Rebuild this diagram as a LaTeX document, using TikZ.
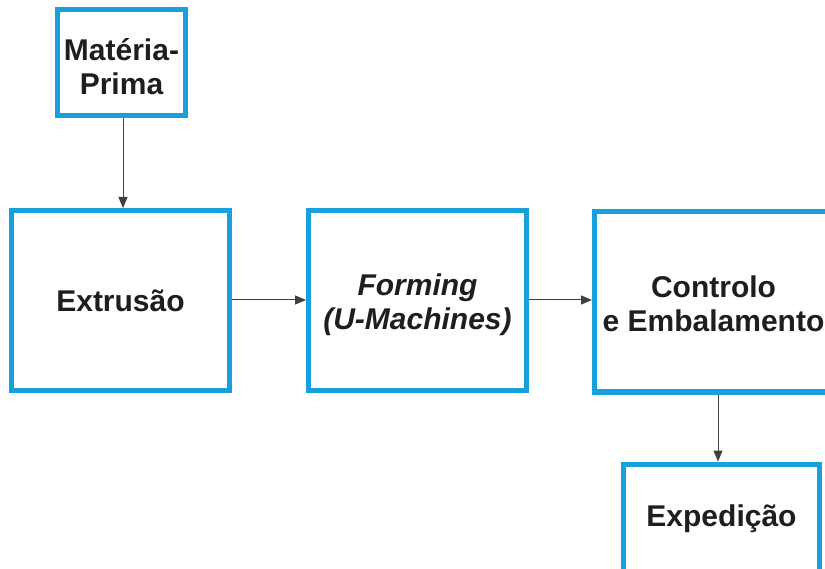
\documentclass[tikz,border=0pt]{standalone}
\usepackage{fontspec}
\setmainfont{Liberation Sans}
\usetikzlibrary{arrows.meta}
\definecolor{frameblue}{RGB}{23,160,218}
\definecolor{inkgray}{RGB}{30,30,30}
\begin{document}
\begin{tikzpicture}[x=1pt,y=-1pt,
  stagefont/.style={text=inkgray, align=center, inner sep=0pt,
    font=\fontsize{30}{34.5}\selectfont\bfseries},
  stagebox/.style={draw=frameblue, line width=5pt, fill=white, rectangle,
    stagefont},
  caption/.style={stagefont, yshift=-4pt},
  flow/.style={draw=inkgray!85, line width=1pt,
    -{Triangle[length=11pt,width=9pt]}}]
  \useasboundingbox (0,0) rectangle (825,569);
  \fill[white] (0,0) rectangle (825,569);
  \clip (0,0) rectangle (825,569);

  % process stages
  \node[stagebox, minimum width=128pt, minimum height=106pt,
    label={[caption]center:Matéria-\\Prima}] (mp) at (121.5,62.5) {};
  \node[stagebox, minimum width=218pt, minimum height=180pt] (ext) at (120.5,300.5) {Extrusão};
  \node[stagebox, minimum width=218pt, minimum height=180pt,
    label={[caption]center:\itshape Forming\\\itshape (U-Machines)}] (frm) at (417.5,300.5) {};
  \node[stagebox, minimum width=238pt, minimum height=180pt,
    label={[caption, yshift=2pt]center:Controlo\\e Embalamento}] (ctl) at (713.5,302) {};
  \node[stagebox, minimum width=196pt, minimum height=110pt] (exp) at (721.5,519) {Expedição};

  % material flow
  \draw[flow] ([xshift=1.5pt]mp.south) -- ([xshift=1.5pt]mp.south |- ext.north);
  \draw[flow] (ext.east |- 0,300) -- (frm.west |- 0,300);
  \draw[flow] (frm.east |- 0,300) -- (ctl.west |- 0,300);
  \draw[flow] (718,0 |- ctl.south) -- (718,0 |- exp.north);
\end{tikzpicture}
\end{document}
